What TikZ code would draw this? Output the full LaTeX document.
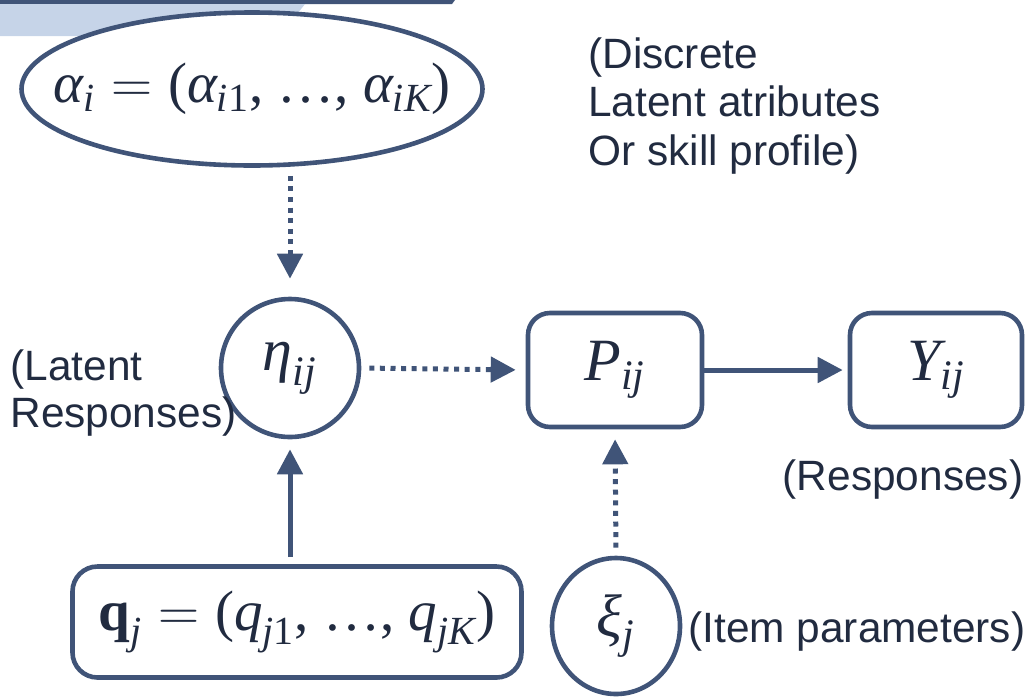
\RequirePackage{fix-cm}
\documentclass[tikz,border=0pt]{standalone}
\usepackage{amsmath}
\usepackage{fontspec}
\setmainfont{Liberation Sans}
\newfontfamily\tmsfont{Liberation Serif}
\usepackage{tikz}
\usetikzlibrary{shapes.geometric,arrows.meta}
\definecolor{edgeblue}{RGB}{64,84,120}
\definecolor{inkblue}{RGB}{33,43,64}
\definecolor{bandblue}{RGB}{198,212,232}
\newcommand\mathfs{\fontsize{30}{34}\selectfont}
\newcommand\longfs{\fontsize{28.5}{32}\selectfont}
\newcommand\mv[1]{\text{\tmsfont\itshape #1}}
\newcommand\mr[1]{\text{\tmsfont #1}}

\begin{document}
\begin{tikzpicture}[x=0.5pt, y=-0.5pt,
    var/.style={draw=edgeblue, line width=2.3pt, fill=white, text=inkblue, inner sep=0pt, font=\mathfs},
    box/.style={var, rectangle, rounded corners=11pt, minimum width=87pt, minimum height=57pt},
    lbl/.style={text=inkblue, inner sep=0pt, font=\fontsize{21.2}{23.5}\selectfont},
    link/.style={edgeblue, line width=2.5pt, shorten <=4pt, shorten >=5pt, -{Triangle[length=12.5pt,width=12.5pt]}},
    dots/.style={link, dash pattern=on 2.5pt off 2.8pt}]
    \useasboundingbox (0,0) rectangle (1032,697);
    \fill[edgeblue] (0,0) -- (455,0) -- (452,4) -- (0,4);
    \fill[bandblue] (0,4) -- (305,4) -- (280,36) -- (0,36);

    \node[var, ellipse, minimum width=230.5pt, minimum height=76.5pt, font=\longfs] (alpha) at (252,89)
        {\makebox[0pt]{$\mv{α}_{\mv{i}} = \mr{(}\mv{α}_{\mv{i}\mr{1}}\mr{, …, }\mv{α}_{\mv{iK}}\mr{)}$}};
    \node[var, circle, minimum size=69pt] (eta) at (290,368) {$\mv{η}_{\mv{ij}}$};
    \node[box] (P) at (615,370) {$\mv{P}_{\mv{ij}}$};
    \node[box, minimum width=86pt] (Y) at (936,370) {$\mv{Y}_{\mv{ij}}$};
    \node[box, rounded corners=12.5pt, minimum width=224.5pt, minimum height=55.5pt, font=\longfs] (q) at (297,622)
        {\makebox[0pt]{$\text{\tmsfont\bfseries q}_{\mv{j}} = \mr{(}\mv{q}_{\mv{j}\mr{1}}\mr{, …, }\mv{q}_{\mv{jK}}\mr{)}$}};
    \node[var, ellipse, minimum width=64pt, minimum height=68pt] (xi) at (616,626) {$\mv{ξ}_{\mv{j}}$};

    \draw[dots, shorten >=9pt] (eta.north |- alpha.south) -- (eta.north);
    \draw[dots] (eta.east) -- (P.west);
    \draw[link, shorten <=0pt, shorten >=2.5pt] (P.east) -- (Y.west);
    \draw[link, shorten <=3.5pt] (eta.south |- q.north) -- (eta.south);
    \draw[dots] (xi.north) -- (P.south);

    \node[lbl, anchor=west, align=left, font=\fontsize{21.2}{24.3}\selectfont] (discrete) at (588,106) {(Discrete\\Latent atributes\\Or skill profile)};
    \node[lbl, anchor=west, align=left] (latent) at (10,393) {(Latent\\Responses)};
    \node[lbl] (responses) at (903,480) {(Responses)};
    \node[lbl, anchor=west] (items) at (688,632) {(Item parameters)};
\end{tikzpicture}
\end{document}
